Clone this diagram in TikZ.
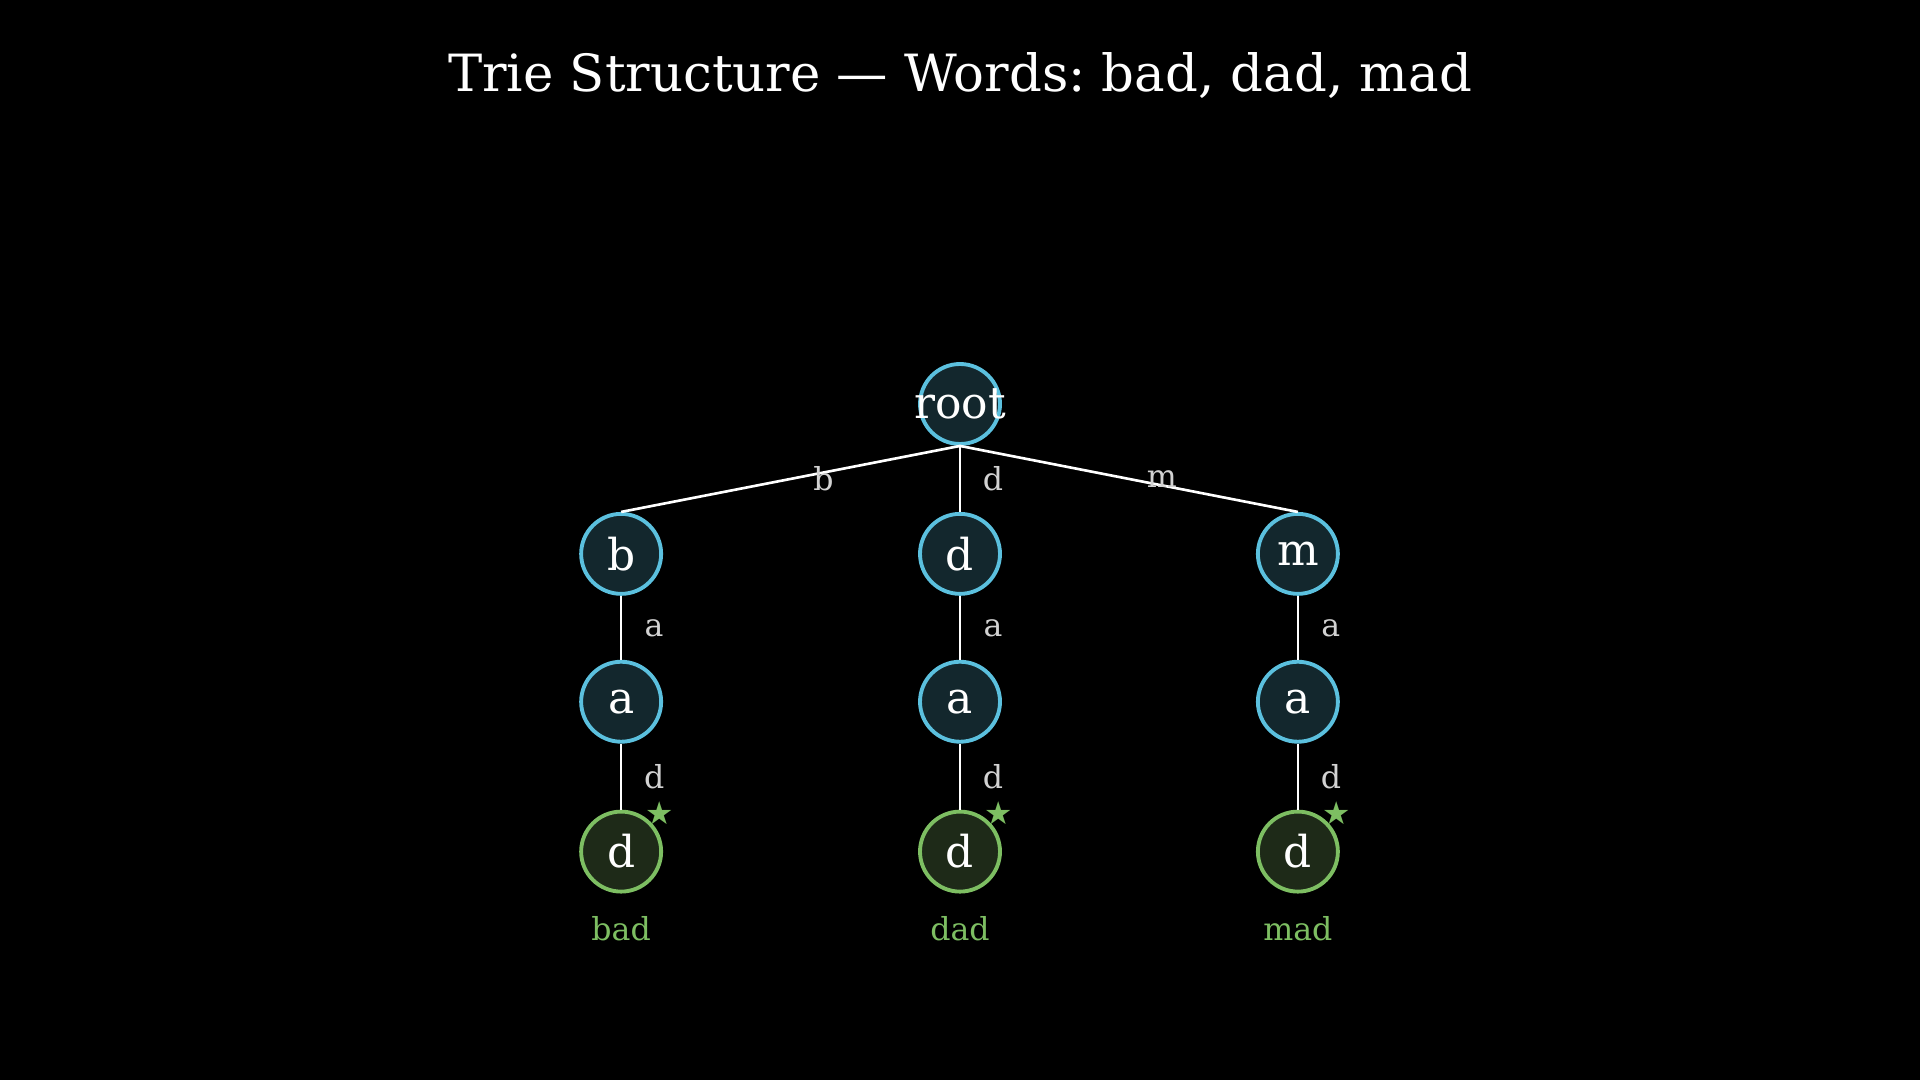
\documentclass[tikz,border=0pt]{standalone}
\usepackage{fontspec}
\setmainfont{DejaVu Serif}
\newfontfamily\symbfont{DejaVu Sans}
\usetikzlibrary{positioning}
\frenchspacing
\definecolor{nodeblue}{HTML}{5BC0DE}
\definecolor{fillblue}{HTML}{13272D}
\definecolor{leafgreen}{HTML}{7DBE62}
\definecolor{fillgreen}{HTML}{1E2A18}
\definecolor{lblgrey}{HTML}{D2D2D2}
\tikzset{
	trienode/.style={circle, draw=nodeblue, fill=fillblue, line width=1.1pt,
		minimum size=0.8cm, inner sep=0pt, text=white, font=\fontsize{12.5}{14}\selectfont},
	leafnode/.style={trienode, draw=leafgreen, fill=fillgreen},
	link/.style={draw=white, line width=0.75pt},
	lbl/.style={text=lblgrey, font=\fontsize{9}{11}\selectfont, xshift=0.33cm},
	wordlbl/.style={text=leafgreen, font=\fontsize{9}{11}\selectfont},
	starmark/.style={text=leafgreen, font=\symbfont\fontsize{9}{11}\selectfont, inner sep=0pt},
}

\begin{document}
\begin{tikzpicture}
			\fill[black] (0,0) rectangle (19.2,-10.8);
			\node[text=white, font=\fontsize{14.6}{17}\selectfont] (title) at (9.6,-0.76) {Trie Structure — Words: bad, dad, mad};
			
			\node[trienode] (root) at (9.6,-4.04) {\makebox[0pt]{root}};
			\node[trienode, below=0.66cm of root] (nd) {d};
			\node[trienode, left=2.55cm of nd] (nb) {b};
			\node[trienode, right=2.54cm of nd] (nm) {m};
			\node[trienode, below=0.64cm of nb] (nba) {a};
			\node[trienode, below=0.64cm of nd] (nda) {a};
			\node[trienode, below=0.64cm of nm] (nma) {a};
			\node[leafnode, below=0.66cm of nba] (nbad) {d};
			\node[leafnode, below=0.66cm of nda] (ndad) {d};
			\node[leafnode, below=0.66cm of nma] (nmad) {d};
			
			\draw[link] (root.south) -- node[lbl] {b} (nb.north);
			\draw[link] (root.south) -- node[lbl] {d} (nd.north);
			\draw[link] (root.south) -- node[lbl] {m} (nm.north);
			\draw[link] (nb) -- node[lbl] {a} (nba);
			\draw[link] (nd) -- node[lbl] {a} (nda);
			\draw[link] (nm) -- node[lbl] {a} (nma);
			\draw[link] (nba) -- node[lbl] {d} (nbad);
			\draw[link] (nda) -- node[lbl] {d} (ndad);
			\draw[link] (nma) -- node[lbl] {d} (nmad);
			
			\node[starmark] (sbad) at ([shift={(0.39,0.38)}]nbad.center) {★};
			\node[starmark] (sdad) at ([shift={(0.39,0.38)}]ndad.center) {★};
			\node[starmark] (smad) at ([shift={(0.39,0.38)}]nmad.center) {★};
			
			\node[wordlbl] (wbad) at ([yshift=-0.77cm]nbad.center) {bad};
			\node[wordlbl] (wdad) at ([yshift=-0.77cm]ndad.center) {dad};
			\node[wordlbl] (wmad) at ([yshift=-0.77cm]nmad.center) {mad};
		\end{tikzpicture}
\end{document}
